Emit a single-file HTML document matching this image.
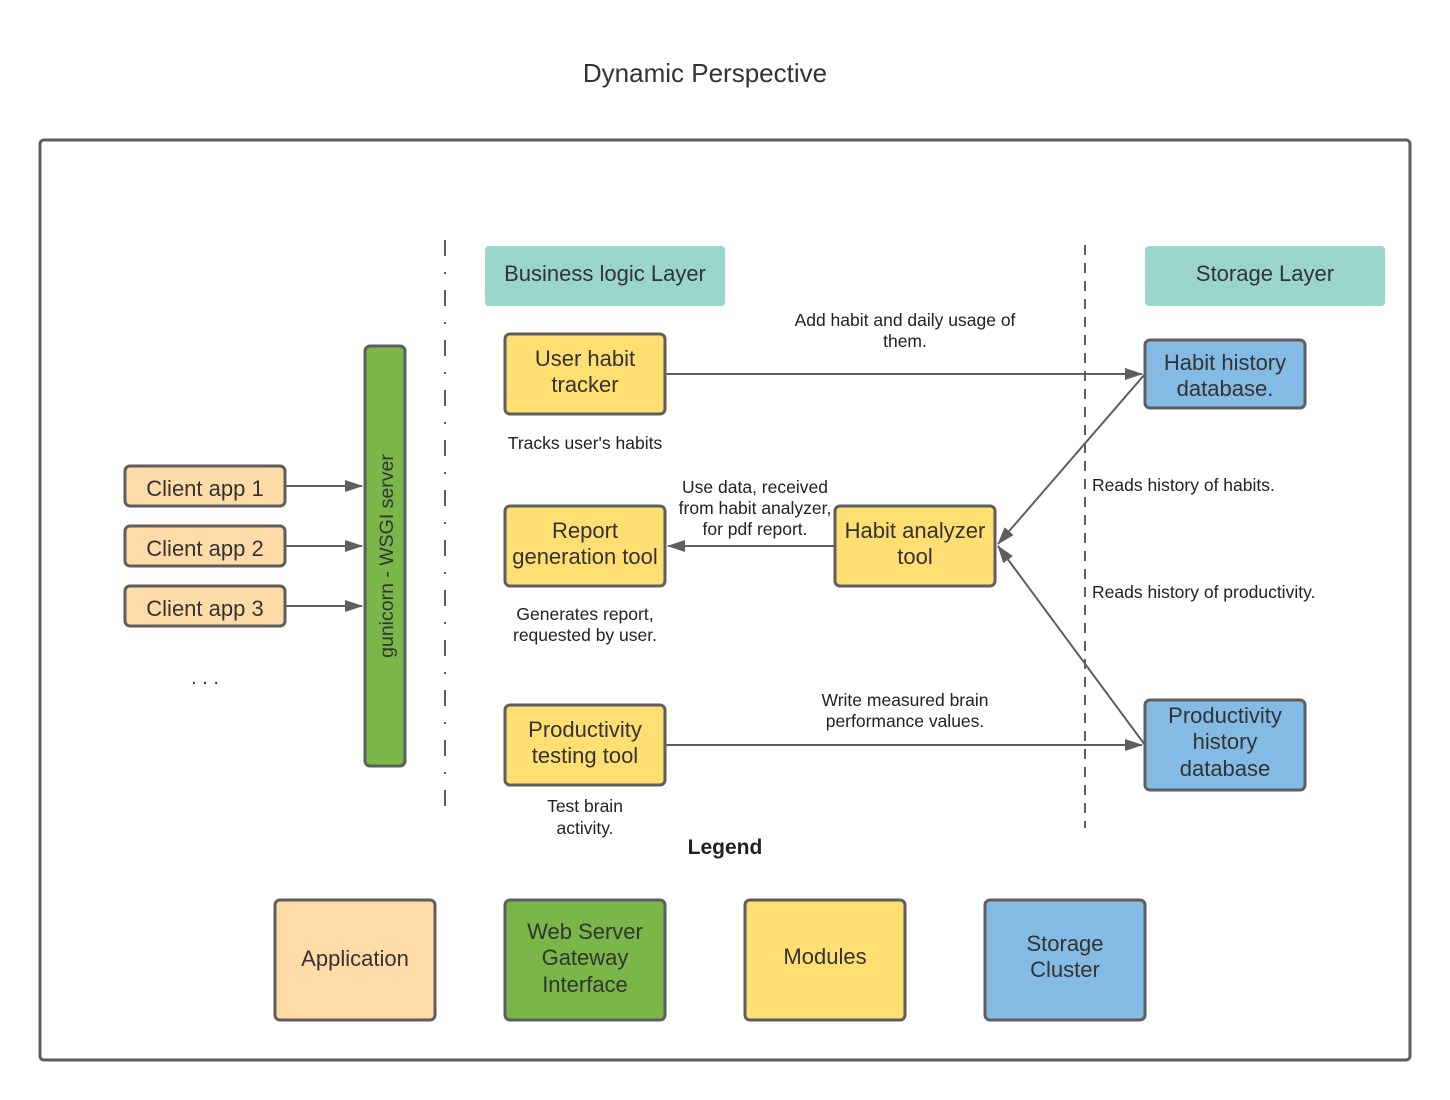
<!DOCTYPE html>
<html><head><meta charset="utf-8"><style>
html,body{margin:0;padding:0;background:#fff;}
svg{display:block;font-family:"Liberation Sans",Arial,sans-serif;}
</style></head><body>
<svg width="1450" height="1100" viewBox="0 0 1450 1100" xmlns="http://www.w3.org/2000/svg">
<defs>
<marker id="b" markerWidth="18" markerHeight="12" refX="17" refY="6" orient="auto" markerUnits="userSpaceOnUse"><path d="M0,0 L18,6 L0,12 Z" fill="#5e5e5e"/></marker></defs>
<text x="705" y="82" font-size="26" text-anchor="middle" fill="#333">Dynamic Perspective</text>
<rect x="40" y="140" width="1370" height="920" rx="4" fill="#fff" stroke="#5e5e5e" stroke-width="3"/>
<line x1="445" y1="240" x2="445" y2="820" stroke="#5e5e5e" stroke-width="2" stroke-dasharray="16,16,2,16"/>
<line x1="1085" y1="245" x2="1085" y2="828" stroke="#5e5e5e" stroke-width="2" stroke-dasharray="10,8"/>
<g stroke="#5e5e5e" stroke-width="3">
<rect x="125" y="466" width="160" height="40" rx="5" fill="#ffdba8"/>
<rect x="125" y="526" width="160" height="40" rx="5" fill="#ffdba8"/>
<rect x="125" y="586" width="160" height="40" rx="5" fill="#ffdba8"/>
<rect x="365" y="346" width="40" height="420" rx="5" fill="#7ab648"/>
<rect x="505" y="334" width="160" height="80" rx="5" fill="#ffdf71"/>
<rect x="505" y="506" width="160" height="80" rx="5" fill="#ffdf71"/>
<rect x="835" y="506" width="160" height="80" rx="5" fill="#ffdf71"/>
<rect x="505" y="705" width="160" height="80" rx="5" fill="#ffdf71"/>
<rect x="1145" y="340" width="160" height="68" rx="5" fill="#83bbe5"/>
<rect x="1145" y="700" width="160" height="90" rx="5" fill="#83bbe5"/>
<rect x="275" y="900" width="160" height="120" rx="5" fill="#ffdba8"/>
<rect x="505" y="900" width="160" height="120" rx="5" fill="#7ab648"/>
<rect x="745" y="900" width="160" height="120" rx="5" fill="#ffdf71"/>
<rect x="985" y="900" width="160" height="120" rx="5" fill="#83bbe5"/>
</g>
<rect x="485" y="246" width="240" height="60" rx="4" fill="#99d5ca"/>
<rect x="1145" y="246" width="240" height="60" rx="4" fill="#99d5ca"/>
<g stroke="#5e5e5e" stroke-width="2" fill="none">
<line x1="285" y1="486" x2="362" y2="486" marker-end="url(#b)"/>
<line x1="285" y1="546" x2="362" y2="546" marker-end="url(#b)"/>
<line x1="285" y1="606" x2="362" y2="606" marker-end="url(#b)"/>
<line x1="665" y1="374" x2="1142" y2="374" marker-end="url(#b)"/>
<line x1="665" y1="745" x2="1142" y2="745" marker-end="url(#b)"/>
<line x1="835" y1="546" x2="668" y2="546" marker-end="url(#b)"/>
<line x1="1145" y1="374" x2="998" y2="544" marker-end="url(#b)"/>
<line x1="1145" y1="745" x2="998" y2="546" marker-end="url(#b)"/>
</g>
<g font-size="22" fill="#333" text-anchor="middle">
<text x="605" y="281">Business logic Layer</text>
<text x="1265" y="281">Storage Layer</text>
<text x="205" y="496">Client app 1</text>
<text x="205" y="556">Client app 2</text>
<text x="205" y="616">Client app 3</text>
<text x="585" y="366">User habit</text><text x="585" y="392">tracker</text>
<text x="585" y="538">Report</text><text x="585" y="564">generation tool</text>
<text x="915" y="538">Habit analyzer</text><text x="915" y="564">tool</text>
<text x="585" y="737">Productivity</text><text x="585" y="763">testing tool</text>
<text x="1225" y="370">Habit history</text><text x="1225" y="396">database.</text>
<text x="1225" y="723">Productivity</text><text x="1225" y="749">history</text><text x="1225" y="776">database</text>
<text x="355" y="966">Application</text>
<text x="585" y="939">Web Server</text><text x="585" y="965">Gateway</text><text x="585" y="992">Interface</text>
<text x="825" y="964">Modules</text>
<text x="1065" y="951">Storage</text><text x="1065" y="977">Cluster</text>
</g>
<text transform="translate(393,556) rotate(-90)" font-size="19.5" fill="#333" text-anchor="middle">gunicorn - WSGI server</text>
<text x="205" y="684" font-size="20" fill="#333" text-anchor="middle">. . .</text>
<g font-size="17.5" fill="#222" text-anchor="middle">
<text x="905" y="326">Add habit and daily usage of</text><text x="905" y="347">them.</text>
<text x="585" y="449">Tracks user's habits</text>
<text x="755" y="493">Use data, received</text><text x="755" y="514">from habit analyzer,</text><text x="755" y="535">for pdf report.</text>
<text x="585" y="620">Generates report,</text><text x="585" y="641">requested by user.</text>
<text x="905" y="706">Write measured brain</text><text x="905" y="727">performance values.</text>
<text x="585" y="812">Test brain</text><text x="585" y="834">activity.</text>
<text x="1092" y="491" text-anchor="start">Reads history of habits.</text>
<text x="1092" y="598" text-anchor="start">Reads history of productivity.</text>
</g>
<text x="725" y="854" font-size="21" font-weight="bold" fill="#222" text-anchor="middle">Legend</text>
</svg>
</body></html>
